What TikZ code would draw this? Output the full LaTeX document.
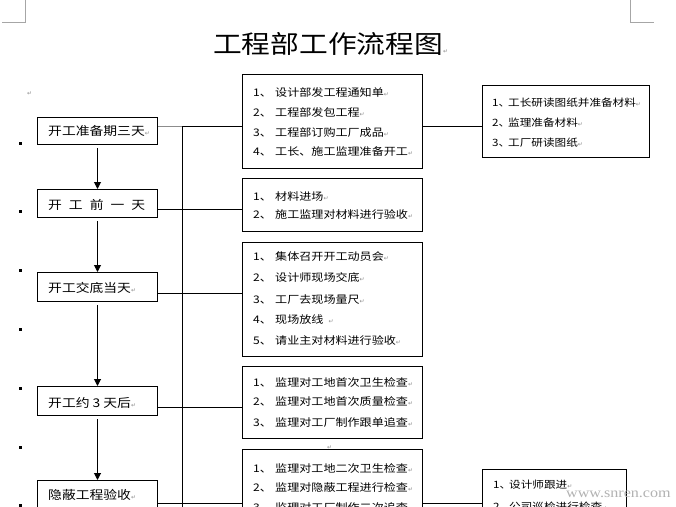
\documentclass[tikz,border=0pt]{standalone}
\usepackage{fontspec}
\usetikzlibrary{arrows.meta}
\newfontfamily\cjk[FakeStretch=1.15]{Noto Sans CJK SC}
\newfontfamily\dvs{DejaVu Sans}
\newfontfamily\wmfont[FakeStretch=1.15]{Liberation Serif}
\newcommand\parmk{{\dvs\fontsize{6}{6}\selectfont\textcolor{black!45}{↵}}}
\begin{document}
\begin{tikzpicture}[x=1pt,y=-1pt,
  frame/.style={draw, line width=1pt, inner sep=0, anchor=north west},
  ltxt/.style={inner sep=0, anchor=base west, font=\cjk\fontsize{12}{12}\selectfont},
  rtxt/.style={inner sep=0, anchor=base west, font=\cjk\fontsize{10.5}{10.5}\selectfont},
  dtxt/.style={inner sep=0, anchor=base west, font=\cjk\fontsize{10.1}{10.1}\selectfont},
  conn/.style={line width=1pt},
  arr/.style={line width=1pt, shorten <=3pt, -{Triangle[width=7pt,length=7pt]}},
  bul/.style={fill=black, minimum size=3pt, inner sep=0},
  pmk/.style={inner sep=0, anchor=base west},
  crop/.style={draw=black!35, line width=1pt}
]
\useasboundingbox (0,0) rectangle (676,506);
\clip (0,0) rectangle (676,506);

% crop marks
\draw[crop] (25,0) -- (25,22) -- (2,22);
\draw[crop] (630,0) -- (630,22) -- (654,22);

% title
\node[inner sep=0, anchor=base west, font=\cjk\fontsize{25}{25}\selectfont] (title) at (213,53.5) {工程部工作流程图\parmk};
\node[pmk] (pm1) at (27,95) {\parmk};
\node[pmk] (pm2) at (327,449) {\parmk};

% left boxes
\node[frame, minimum width=120pt, minimum height=27pt] (L1) at (37,117) {};
\node[frame, minimum width=120pt, minimum height=28pt] (L2) at (37,189) {};
\node[frame, minimum width=120pt, minimum height=29pt] (L3) at (37,272) {};
\node[frame, minimum width=120pt, minimum height=29pt] (L4) at (37,386) {};
\node[frame, minimum width=120pt, minimum height=45pt] (L5) at (37,480) {};
\node[ltxt] (t1) at (48,135.3) {开工准备期三天\parmk};
\node[ltxt] (t2) at (48,209.6) {开\hspace{7pt}工\hspace{7pt}前\hspace{7pt}一\hspace{7pt}天};
\node[ltxt] (t3) at (48,292.6) {开工交底当天\parmk};
\node[ltxt] (t4) at (48,407.6) {开工约 3 天后\parmk};
\node[ltxt] (t5) at (48,499.6) {隐蔽工程验收\parmk};

% bullets
\foreach \i/\y in {1/143,2/211,3/270,4/329,5/388,6/447,7/505}
  \node[bul] (b\i) at (20,\y) {};

% right boxes
\node[frame, minimum width=180pt, minimum height=94pt] (A) at (242,74) {};
\node[frame, minimum width=180pt, minimum height=53pt] (B) at (242,178) {};
\node[frame, minimum width=180pt, minimum height=114pt] (C) at (242,242) {};
\node[frame, minimum width=180pt, minimum height=72pt] (E) at (242,366) {};
\node[frame, minimum width=180pt, minimum height=80pt] (F) at (242,449) {};
\node[frame, minimum width=167pt, minimum height=72pt] (D) at (482,85) {};
\node[frame, minimum width=144pt, minimum height=60pt] (G) at (482,469) {};

% box A
\node[rtxt] (a1n) at (253,96) {1、}; \node[rtxt] (a1) at (275,96) {设计部发工程通知单\parmk};
\node[rtxt] (a2n) at (253,116) {2、}; \node[rtxt] (a2) at (275,116) {工程部发包工程\parmk};
\node[rtxt] (a3n) at (253,136) {3、}; \node[rtxt] (a3) at (275,136) {工程部订购工厂成品\parmk};
\node[rtxt] (a4n) at (253,155) {4、}; \node[rtxt] (a4) at (275,155) {工长、施工监理准备开工\parmk};
% box B
\node[rtxt] (b1n) at (253,200) {1、}; \node[rtxt] (bb1) at (275,200) {材料进场\parmk};
\node[rtxt] (b2n) at (253,218) {2、}; \node[rtxt] (bb2) at (275,218) {施工监理对材料进行验收\parmk};
% box C
\node[rtxt] (c1n) at (253,260) {1、}; \node[rtxt] (c1) at (275,260) {集体召开开工动员会\parmk};
\node[rtxt] (c2n) at (253,281) {2、}; \node[rtxt] (c2) at (275,281) {设计师现场交底\parmk};
\node[rtxt] (c3n) at (253,303) {3、}; \node[rtxt] (c3) at (275,303) {工厂去现场量尺\parmk};
\node[rtxt] (c4n) at (253,323) {4、}; \node[rtxt] (c4) at (275,323) {现场放线\hspace{5pt}\parmk};
\node[rtxt] (c5n) at (253,344) {5、}; \node[rtxt] (c5) at (275,344) {请业主对材料进行验收\parmk};
% box E
\node[rtxt] (e1n) at (253,386) {1、}; \node[rtxt] (e1) at (275,386) {监理对工地首次卫生检查\parmk};
\node[rtxt] (e2n) at (253,405) {2、}; \node[rtxt] (e2) at (275,405) {监理对工地首次质量检查\parmk};
\node[rtxt] (e3n) at (253,426) {3、}; \node[rtxt] (e3) at (275,426) {监理对工厂制作跟单追查\parmk};
% box F
\node[rtxt] (f1n) at (253,472) {1、}; \node[rtxt] (f1) at (275,472) {监理对工地二次卫生检查\parmk};
\node[rtxt] (f2n) at (253,491) {2、}; \node[rtxt] (f2) at (275,491) {监理对隐蔽工程进行检查\parmk};
\node[rtxt] (f3n) at (253,511) {3、}; \node[rtxt] (f3) at (275,511) {监理对工厂制作二次追查\parmk};
% box D
\node[dtxt] (d1n) at (492,106) {1、}; \node[dtxt] (d1) at (508,106) {工长研读图纸并准备材料\parmk};
\node[dtxt] (d2n) at (492,126) {2、}; \node[dtxt] (d2) at (508,126) {监理准备材料\parmk};
\node[dtxt] (d3n) at (492,146) {3、}; \node[dtxt] (d3) at (508,146) {工厂研读图纸\parmk};
% box G
\node[dtxt] (g1n) at (493,488) {1、}; \node[dtxt] (g1) at (509,488) {设计师跟进\parmk};
\node[dtxt] (g2n) at (493,510) {2、}; \node[dtxt] (g2) at (509,510) {公司巡检进行检查\parmk};

% connector levels
\coordinate (y1) at (0,126);
\coordinate (y2) at (0,209);
\coordinate (y3) at (0,293);
\coordinate (y4) at (0,407);
\coordinate (y5) at (0,503);
\coordinate (trunkTop) at (182,126);
\coordinate (trunkBot) at (182,530);

\draw[conn] (trunkTop) -- (trunkBot);
\draw[line width=1pt, draw=black!45] (L1.east |- y1) -- (trunkTop);
\draw[conn] (trunkTop) -- (A.west |- y1);
\draw[conn] (A.east |- y1) -- (D.west |- y1);
\draw[conn] (L2.east |- y2) -- (B.west |- y2);
\draw[conn] (L3.east |- y3) -- (C.west |- y3);
\draw[conn] (L4.east |- y4) -- (E.west |- y4);
\draw[conn] (L5.east |- y5) -- (F.west |- y5);
\draw[conn] (F.east |- y5) -- (G.west |- y5);

% arrows
\draw[arr] (L1.south) -- (L2.north);
\draw[arr] (L2.south) -- (L3.north);
\draw[arr] (L3.south) -- (L4.north);
\draw[arr] (L4.south) -- (L5.north);

% watermark
\node[inner sep=0, anchor=base west, font=\wmfont\fontsize{14}{14}\selectfont, text=black!30] (wm) at (566,497) {www.snren.com};
\end{tikzpicture}
\end{document}
